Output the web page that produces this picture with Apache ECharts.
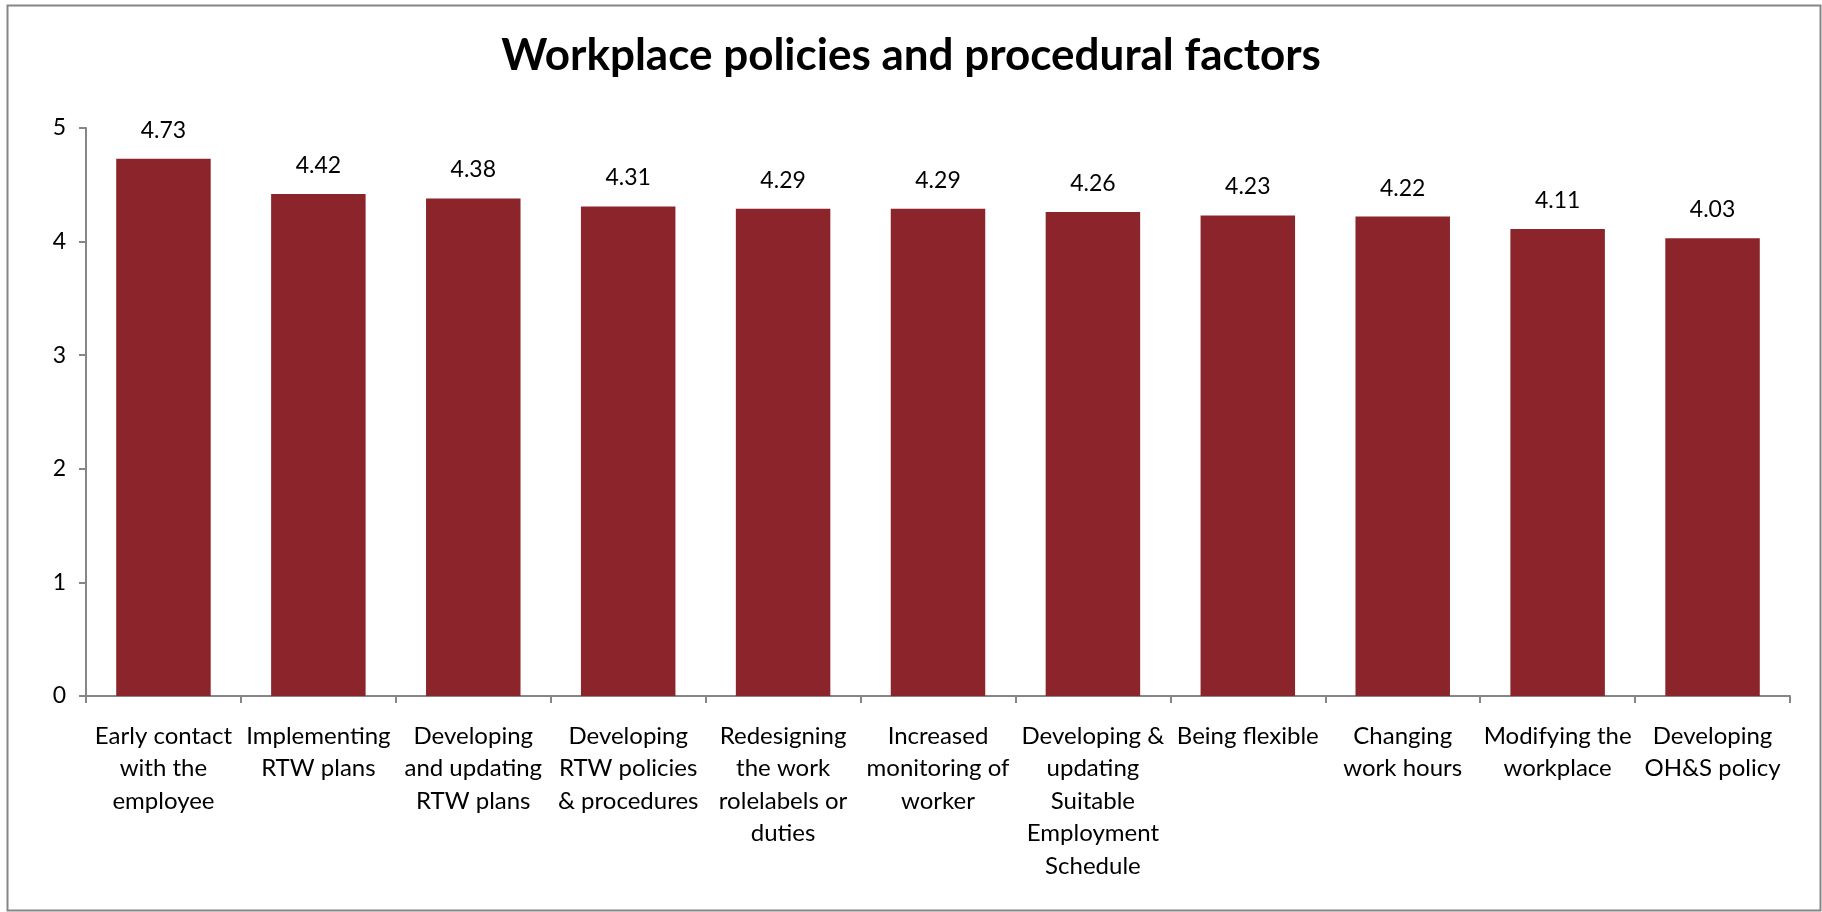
<!DOCTYPE html>
<html>
<head>
<meta charset="utf-8">
<script src="https://cdn.jsdelivr.net/npm/echarts@6/dist/echarts.min.js"></script>
<style>
html,body{margin:0;padding:0;background:#fff;}
#chart{width:1822px;height:912px;}
</style>
</head>
<body>
<div id="chart"></div>
<script>
const titleText = "Workplace policies and procedural factors";
const categories = [
  "Early contact\nwith the\nemployee",
  "Implementing\nRTW plans",
  "Developing\nand updating\nRTW plans",
  "Developing\nRTW policies\n& procedures",
  "Redesigning\nthe work\nrolelabels or\nduties",
  "Increased\nmonitoring of\nworker",
  "Developing &\nupdating\nSuitable\nEmployment\nSchedule",
  "Being flexible",
  "Changing\nwork hours",
  "Modifying the\nworkplace",
  "Developing\nOH&S policy"
];
const values = [4.73, 4.42, 4.38, 4.31, 4.29, 4.29, 4.26, 4.23, 4.22, 4.11, 4.03];
const yMin = 0, yMax = 5, yInterval = 1;

const FONT = "Lato, 'Open Sans', sans-serif";
const chart = echarts.init(document.getElementById('chart'));
chart.setOption({
  animation: false,
  backgroundColor: '#ffffff',
  graphic: [{
    type: 'rect',
    shape: {x: 7.5, y: 5.5, width: 1813, height: 905},
    style: {fill: 'none', stroke: '#868686', lineWidth: 2},
    silent: true
  }],
  title: {
    text: titleText,
    left: 'center',
    top: 29,
    textStyle: {fontFamily: FONT, fontWeight: 'bold', fontSize: 44, color: '#000'}
  },
  grid: {left: 86, right: 32, top: 128, bottom: 216, containLabel: false},
  xAxis: {
    type: 'category',
    data: categories,
    axisLine: {lineStyle: {color: '#868686', width: 2}},
    axisTick: {show: true, length: 7, lineStyle: {color: '#868686', width: 2}},
    axisLabel: {
      interval: 0,
      margin: 24,
      fontFamily: FONT,
      fontSize: 24,
      lineHeight: 32.5,
      color: '#000',
      align: 'center'
    }
  },
  yAxis: {
    type: 'value',
    min: yMin,
    max: yMax,
    interval: yInterval,
    splitLine: {show: false},
    axisLine: {show: true, lineStyle: {color: '#868686', width: 2}},
    axisTick: {show: true, length: 7, lineStyle: {color: '#868686', width: 2}},
    axisLabel: {fontFamily: FONT, fontSize: 23, color: '#000', margin: 20}
  },
  series: [{
    type: 'bar',
    data: values,
    barCategoryGap: '39%',
    itemStyle: {color: '#8B252B'},
    label: {
      show: true,
      position: 'top',
      distance: 17,
      fontFamily: FONT,
      fontSize: 23,
      color: '#000',
      formatter: p => p.value.toFixed(2)
    }
  }]
});
</script>
</body>
</html>
